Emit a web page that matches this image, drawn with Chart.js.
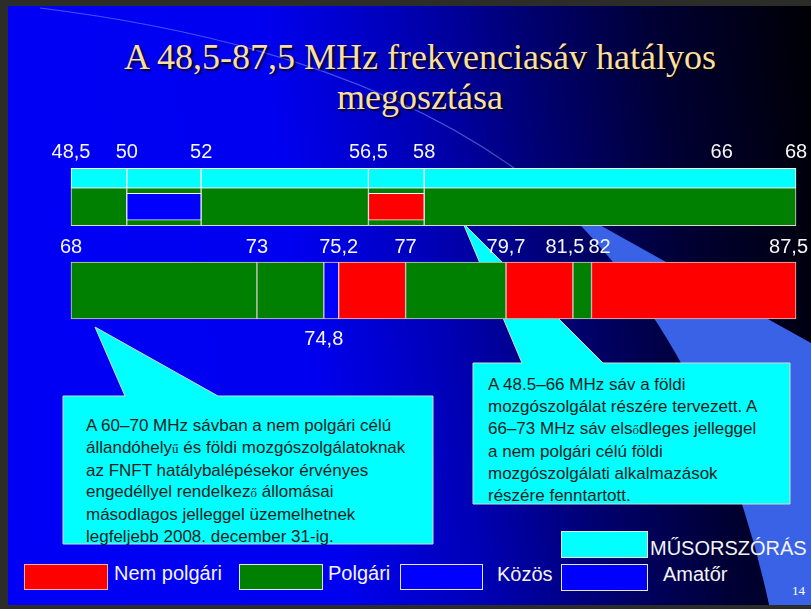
<!DOCTYPE html>
<html lang="hu">
<head>
<meta charset="utf-8">
<title>A 48,5-87,5 MHz frekvenciasáv hatályos megosztása</title>
<script src="https://cdn.jsdelivr.net/npm/chart.js@4.4.1/dist/chart.umd.min.js"></script>
<style>
html,body{margin:0;padding:0;}
body{width:811px;height:609px;overflow:hidden;position:relative;background:#2c2c28;font-family:"Liberation Sans",Arial,sans-serif;}
#slide{position:absolute;left:8px;top:6px;width:803px;height:599px;background:linear-gradient(82deg,#0000f6 0%,#0000f0 38%,#0000b4 54%,#000074 67%,#000034 82%,#000004 100%);}
#deco{position:absolute;left:0;top:0;}
canvas{position:absolute;}
#title{position:absolute;left:0;top:37px;width:840px;text-align:center;font-family:"Liberation Serif","Times New Roman",serif;font-size:36px;line-height:40px;color:#fbdf9f;text-shadow:2px 2px 2px rgba(0,0,0,0.85);}
.ctext{position:absolute;font-size:17px;color:#1c1c1c;white-space:nowrap;}
.fb{font-family:"Liberation Serif",serif;font-size:13px;}
.lbox{position:absolute;box-sizing:border-box;border:1px solid #e6e6e6;}
.ltext{position:absolute;font-size:20px;color:#f4f4f4;white-space:nowrap;line-height:24px;}
#page{position:absolute;left:792px;top:583px;font-family:"Liberation Serif",serif;font-size:13px;color:#fff;}
</style>
</head>
<body>
<div id="slide"></div>
<svg id="deco" width="811" height="609">
  <defs><clipPath id="sc"><rect x="8" y="6" width="803" height="599"/></clipPath></defs>
  <g clip-path="url(#sc)">
    <path d="M555,200 Q715,350 770,609 L811,609 L811,343 Z" fill="#3a62e6"/>
    <path d="M40,8 Q380,50 555,200" fill="none" stroke="#8aa4ff" stroke-width="1.2" opacity="0.5"/>
    <path d="M63,396 L125,396 L95,327 L218,396 L433,396 L433,544 L63,544 Z" fill="#00ffff" stroke="#d8d8d8" stroke-width="1"/>
    <path d="M473,363 L522,363 L463,223 L603,363 L790,363 L790,504 L473,504 Z" fill="#00ffff" stroke="#d8d8d8" stroke-width="1"/>
  </g>
</svg>

<div id="title">A 48,5-87,5 MHz frekvenciasáv hatályos<br>megosztása</div>

<canvas id="row1" width="805" height="93" style="left:31px;top:134px;"></canvas>
<canvas id="row2" width="805" height="117" style="left:31px;top:232px;"></canvas>

<div class="ctext" style="left:86px;top:415px;line-height:21.8px;">A 60–70 MHz sávban a nem polgári célú<br>állandóhely<span class="fb">ű</span> és földi mozgószolgálatoknak<br>az FNFT hatálybalépésekor érvényes<br>engedéllyel rendelkez<span class="fb">ő</span> állomásai<br>másodlagos jelleggel üzemelhetnek<br>legfeljebb 2008. december 31-ig.</div>
<div class="ctext" style="left:488px;top:374px;line-height:22px;">A 48.5–66 MHz sáv a földi<br>mozgószolgálat részére tervezett. A<br>66–73 MHz sáv els<span class="fb">ő</span>dleges jelleggel<br>a nem polgári célú földi<br>mozgószolgálati alkalmazások<br>részére fenntartott.</div>

<div class="lbox" style="left:24px;top:564px;width:84px;height:26px;background:#ff0000;border-color:#f0b0b0;"></div>
<div class="ltext" style="left:114px;top:561px;">Nem polgári</div>
<div class="lbox" style="left:239px;top:564px;width:84px;height:26px;background:#008000;"></div>
<div class="ltext" style="left:328px;top:561px;">Polgári</div>
<div class="lbox" style="left:400px;top:564px;width:83px;height:26px;background:#0000ff;"></div>
<div class="ltext" style="left:497px;top:562px;">Közös</div>
<div class="lbox" style="left:561px;top:531px;width:87px;height:27px;background:#00ffff;"></div>
<div class="ltext" style="left:650px;top:536px;">MŰSORSZÓRÁS</div>
<div class="lbox" style="left:561px;top:564px;width:87px;height:27px;background:#0000ff;"></div>
<div class="ltext" style="left:663px;top:562px;">Amatőr</div>
<div id="page">14</div>

<script>
// ---- Tick labels (MHz) ----
const row1Ticks = [48.5, 50, 52, 56.5, 58, 66, 68];
const row2TopTicks = [68, 73, 75.2, 77, 79.7, 81.5, 82, 87.5];
const row2BottomTicks = [74.8];

// ---- Row 1: 48,5–68 MHz ----
const row1Rows = ['Műsorszórás', 'Mozgószolgálat'];
const broadcastStart = [48.5, 50, 52, 56.5, 58];
const broadcastEnd   = [50, 52, 56.5, 58, 68];
const mobileStart = [48.5, 50, 52, 56.5, 58];
const mobileEnd   = [50, 52, 56.5, 58, 68];
const mobileUse   = ['Polgári', 'Polgári', 'Polgári', 'Polgári', 'Polgári'];
const sharedStart = [50, 56.5];
const sharedEnd   = [52, 58];
const sharedUse   = ['Amatőr', 'Nem polgári'];

// ---- Row 2: 68–87,5 MHz ----
const row2Rows  = ['Sáv'];
const row2Start = [68, 73, 74.8, 75.2, 77, 79.7, 81.5, 82];
const row2End   = [73, 74.8, 75.2, 77, 79.7, 81.5, 82, 87.5];
const row2Use   = ['Polgári', 'Polgári', 'Közös', 'Nem polgári', 'Polgári', 'Nem polgári', 'Polgári', 'Nem polgári'];

const useColors = {
  'Nem polgári': '#ff0000',
  'Polgári': '#008000',
  'Közös': '#0000ff',
  'Amatőr': '#0000ff',
  'Műsorszórás': '#00ffff'
};

const fmt = v => String(v).replace('.', ',');

const tickLabelPlugin = {
  id: 'tickLabels',
  afterDatasetsDraw(chart, args, opts) {
    const {ctx, chartArea} = chart;
    const scale = chart.scales.x;
    ctx.save();
    ctx.font = opts.font;
    ctx.fillStyle = opts.color;
    ctx.textAlign = 'center';
    ctx.textBaseline = 'alphabetic';
    (opts.groups || []).forEach(g => {
      const items = g.values.map(v => {
        const t = fmt(v);
        return {t, w: ctx.measureText(t).width, c: scale.getPixelForValue(v)};
      });
      for (let i = 1; i < items.length; i++) {
        const a = items[i - 1], b = items[i];
        const ov = (a.c + a.w / 2 + opts.gap) - (b.c - b.w / 2);
        if (ov > 0) { a.c -= ov / 2; b.c += ov / 2; }
      }
      // keep the last labels inside the visible slide
      const maxRight = chartArea.right + opts.overhang;
      items.forEach(it => { if (it.c + it.w / 2 > maxRight) it.c = maxRight - it.w / 2; });
      const y = g.side === 'top' ? chartArea.top - g.offset : chartArea.bottom + g.offset;
      items.forEach(it => ctx.fillText(it.t, it.c, y));
    });
    ctx.restore();
  }
};

function seg(label, row, s, e, color, border, thick, order) {
  return {
    label, data: [{y: row, x: [s, e]}],
    backgroundColor: color, borderColor: border, borderWidth: 1,
    borderSkipped: false, barThickness: thick, grouped: false, order, clip: false
  };
}

// Row 1 datasets
const dsA = [];
sharedStart.forEach((s, i) => dsA.push(seg(sharedUse[i], 'Mozgószolgálat', s, sharedEnd[i], useColors[sharedUse[i]], '#f2f2f2', 27, 0)));
mobileStart.forEach((s, i) => dsA.push(seg(mobileUse[i], 'Mozgószolgálat', s, mobileEnd[i], useColors[mobileUse[i]], '#d8d8d8', 38, 1)));
broadcastStart.forEach((s, i) => dsA.push(seg('Műsorszórás', 'Műsorszórás', s, broadcastEnd[i], useColors['Műsorszórás'], '#ffffff', 20, 1)));

// Row 2 datasets
const dsB = row2Start.map((s, i) => seg(row2Use[i], 'Sáv', s, row2End[i], useColors[row2Use[i]], '#d8c8c8', 57, 1));

const common = {
  indexAxis: 'y', responsive: false, animation: false, events: [],
  plugins: {legend: {display: false}, tooltip: {enabled: false}}
};
const tickFont = '20px "Liberation Sans", Arial, sans-serif';

new Chart(document.getElementById('row1'), {
  type: 'bar',
  data: {labels: row1Rows, datasets: dsA},
  options: {
    ...common,
    layout: {padding: {left: 40, right: 40, top: 30, bottom: 6}},
    scales: {
      x: {type: 'linear', min: row1Ticks[0], max: row1Ticks[row1Ticks.length - 1], display: false},
      y: {type: 'category', display: false, offset: true}
    },
    plugins: {
      ...common.plugins,
      tickLabels: {font: tickFont, color: '#f6f6f6', gap: 4, overhang: 12, groups: [{values: row1Ticks, side: 'top', offset: 6}]}
    }
  },
  plugins: [tickLabelPlugin]
});

new Chart(document.getElementById('row2'), {
  type: 'bar',
  data: {labels: row2Rows, datasets: dsB},
  options: {
    ...common,
    layout: {padding: {left: 40, right: 40, top: 30, bottom: 30}},
    scales: {
      x: {type: 'linear', min: row2TopTicks[0], max: row2TopTicks[row2TopTicks.length - 1], display: false},
      y: {type: 'category', display: false, offset: true}
    },
    datasets: {bar: {barPercentage: 1, categoryPercentage: 1}},
    plugins: {
      ...common.plugins,
      tickLabels: {font: tickFont, color: '#f6f6f6', gap: 4, overhang: 12, groups: [
        {values: row2TopTicks, side: 'top', offset: 9},
        {values: row2BottomTicks, side: 'bottom', offset: 26}
      ]}
    }
  },
  plugins: [tickLabelPlugin]
});
</script>
</body>
</html>
